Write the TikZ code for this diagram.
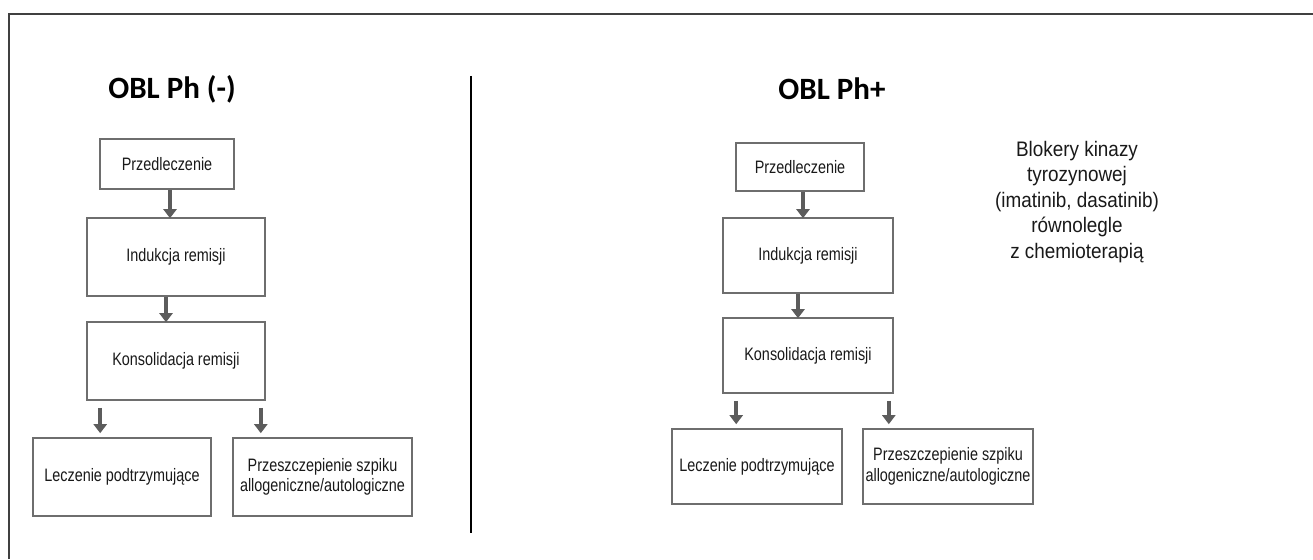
\documentclass[tikz,border=0pt]{standalone}
\usepackage{fontspec}
\setmainfont{Liberation Sans}
\newfontfamily\boxfont[FakeStretch=0.8]{Liberation Sans}
\newfontfamily\notefont[FakeStretch=0.9]{Liberation Sans}
\newfontfamily\headfont{Carlito}
\usetikzlibrary{arrows.meta}
\definecolor{boxgray}{HTML}{6E6E6E}
\definecolor{arrowgray}{HTML}{5C5C5C}
\begin{document}
\begin{tikzpicture}[x=1pt,y=-1pt]
				\tikzstyle{Box} = [rectangle, draw=boxgray, line width=1.6pt, inner sep=0pt, align=center, text=black!90, font=\boxfont\fontsize{18}{20.5}\selectfont]
				\tikzstyle{Title} = [inner sep=0pt, font=\headfont\bfseries\fontsize{31}{36}\selectfont]
				\tikzstyle{Flow} = [draw=arrowgray, line width=4.5pt, -{Triangle[width=13pt,length=9pt]}, shorten >=-1pt]
				\useasboundingbox (0,0) rectangle (1313,559);
				\draw [black!75, line width=1.4pt] (9,559) -- (9,14) -- (1313,14);
				\draw [black, line width=2pt] (471,76) -- (471,533);
				% OBL Ph (-)
				\node (T1) at (172,89) [Title] {OBL Ph (-)};
				\node (L1) at (167,164) [Box, minimum width=134, minimum height=50] {Przedleczenie};
				\node (L2) at (176,257) [Box, minimum width=178, minimum height=78] {Indukcja remisji};
				\node (L3) at (176,361) [Box, minimum width=178, minimum height=78] {Konsolidacja remisji};
				\node (L4) at (122,477) [Box, minimum width=178, minimum height=78] {Leczenie podtrzymujące};
				\node (L5) at (322.5,477) [Box, minimum width=179, minimum height=78] {Przeszczepienie szpiku\\allogeniczne/autologiczne};
				\draw [Flow] ([xshift=3pt]L1.south) to ([xshift=3pt]L1.south |- L2.north);
				\draw [Flow] ([xshift=-10pt]L2.south) to ([xshift=-10pt]L3.north);
				\draw [Flow] ([xshift=14pt,yshift=-7pt]L3.south west) to ([xshift=14pt,yshift=5pt]L3.south west |- L4.north);
				\draw [Flow] ([xshift=-5pt,yshift=-7pt]L3.south east) to ([xshift=-5pt,yshift=5pt]L3.south east |- L5.north);
				% OBL Ph+
				\node (T2) at (832,89) [Title] {OBL Ph+};
				\node (R1) at (800,167) [Box, minimum width=128, minimum height=48] {Przedleczenie};
				\node (R2) at (808,255.5) [Box, minimum width=170, minimum height=75] {Indukcja remisji};
				\node (R3) at (808,355.5) [Box, minimum width=170, minimum height=75] {Konsolidacja remisji};
				\node (R4) at (757,466.5) [Box, minimum width=170, minimum height=75] {Leczenie podtrzymujące};
				\node (R5) at (948,466.5) [Box, minimum width=170, minimum height=75] {Przeszczepienie szpiku\\allogeniczne/autologiczne};
				\draw [Flow] ([xshift=3pt]R1.south) to ([xshift=3pt]R1.south |- R2.north);
				\draw [Flow] ([xshift=-10pt]R2.south) to ([xshift=-10pt]R3.north);
				\draw [Flow] ([xshift=14pt,yshift=-7pt]R3.south west) to ([xshift=14pt,yshift=5pt]R3.south west |- R4.north);
				\draw [Flow] ([xshift=-5pt,yshift=-7pt]R3.south east) to ([xshift=-5pt,yshift=5pt]R3.south east |- R5.north);
				\node (N1) at (1077,202) [align=center, inner sep=0pt, text=black!90, font=\notefont\fontsize{21}{25.5}\selectfont] {Blokery kinazy\\tyrozynowej\\(imatinib, dasatinib)\\równolegle\\z chemioterapią};
			\end{tikzpicture}
\end{document}
